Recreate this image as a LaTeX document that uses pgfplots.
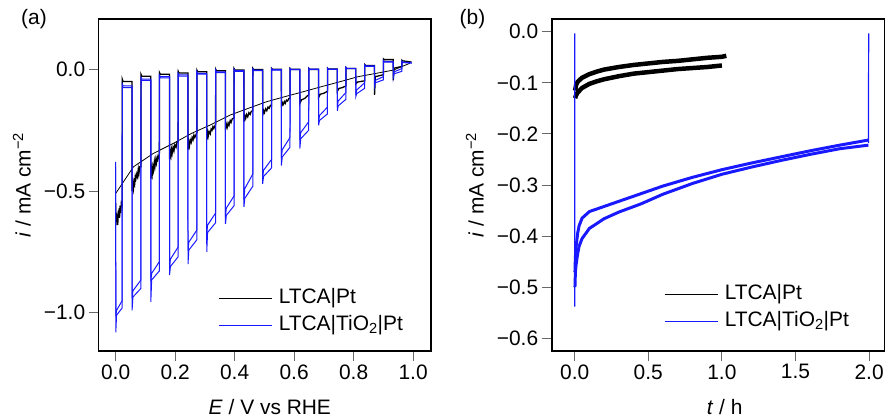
\documentclass[border=0pt]{standalone}
\usepackage{fontspec}
\setmainfont{Liberation Sans}
\usepackage{pgfplots}
\pgfplotsset{compat=1.18}
\definecolor{bl}{RGB}{25,25,255}
\definecolor{tickgray}{RGB}{105,105,105}
\newcommand{\fs}{\fontsize{21}{25}\selectfont}
\pgfplotsset{
  panel/.style={
    scale only axis, anchor=south west, height=332bp,
    axis line style={line width=1.6pt},
    tick align=outside, tick pos=left, major tick length=10bp,
    tick style={draw=tickgray, line width=1pt},
    tick label style={font=\fs},
    label style={font=\fs},
    ylabel style={at={(axis description cs:-0.231,0.5)}, anchor=center},
    legend cell align=left,
    legend style={draw=none, fill=none, inner sep=0pt, row sep=7.5pt, column sep=6pt,
      font=\fs, nodes={inner sep=0pt, text height=15pt, text depth=4.5pt}},
    legend image code/.code={\draw[##1] (0pt,0pt) -- (54pt,0pt);},
  },
}

\begin{document}
\begin{tikzpicture}[font=\fs]
\useasboundingbox (0,0) rectangle (888bp,418bp);

% (a) chopped-light LSV
\begin{axis}[panel, at={(98.7bp,67bp)}, width=332.3bp,
  xmin=-0.057, xmax=1.06, ymin=-1.157, ymax=0.207,
  xtick={0,0.2,0.4,0.6,0.8,1.0}, xticklabels={0.0,0.2,0.4,0.6,0.8,1.0},
  ytick={-1,-0.5,0}, yticklabels={−1.0,−0.5,0.0},
  xlabel={\textit{E} / V vs RHE},
  xlabel style={at={(axis description cs:0.515,-0.19)}, anchor=base},
  ylabel={\textit{i} / mA cm\textsuperscript{−2}},
  legend style={at={(axis description cs:0.359,0.119)}, anchor=west},
]
\addlegendimage{black, line width=0.8pt}
\addlegendentry{LTCA|Pt}
\addlegendimage{bl, line width=0.8pt}
\addlegendentry{LTCA|TiO\textsubscript{2}|Pt}
% LTCA|Pt, continuous illuminated sweep
\addplot[black, line width=0.8pt, forget plot] coordinates {
(0,-0.51) (0.06,-0.40) (0.127,-0.345) (0.194,-0.304) (0.255,-0.263) (0.317,-0.229)
(0.384,-0.188) (0.446,-0.16) (0.507,-0.133) (0.569,-0.112) (0.63,-0.092)
(0.692,-0.071) (0.753,-0.051) (0.815,-0.03) (0.877,-0.016) (0.933,-0.003) (0.989,0.025)
};
% LTCA|Pt, chopped
\addplot[black, line width=1.3pt, forget plot] coordinates {
(0,-0.55) (0.001,-0.64) (0.003,-0.59) (0.004,-0.62) (0.006,-0.60) (0.007,-0.64) (0.009,-0.58)
(0.010,-0.61) (0.012,-0.57) (0.013,-0.61) (0.015,-0.56) (0.017,-0.59) (0.019,-0.55) (0.022,-0.56)
(0.0222,-0.04) (0.025,-0.05) (0.055,-0.05)
(0.0552,-0.50) (0.058,-0.47) (0.060,-0.49) (0.062,-0.46) (0.064,-0.47) (0.066,-0.44) (0.068,-0.45)
(0.071,-0.43) (0.073,-0.44) (0.076,-0.41) (0.078,-0.43) (0.081,-0.40) (0.085,-0.40)
(0.0852,-0.02) (0.088,-0.028) (0.118,-0.028)
(0.1182,-0.45) (0.121,-0.41) (0.123,-0.43) (0.125,-0.40) (0.127,-0.415) (0.130,-0.38)
(0.132,-0.40) (0.135,-0.37) (0.137,-0.385) (0.140,-0.36) (0.142,-0.37) (0.147,-0.345)
(0.1472,-0.013) (0.150,-0.02) (0.181,-0.02)
(0.1812,-0.37) (0.184,-0.34) (0.186,-0.355) (0.188,-0.33) (0.190,-0.345) (0.193,-0.32)
(0.196,-0.335) (0.199,-0.31) (0.203,-0.32) (0.206,-0.30) (0.210,-0.295)
(0.2102,-0.008) (0.213,-0.015) (0.243,-0.015)
(0.2432,-0.33) (0.246,-0.30) (0.248,-0.315) (0.251,-0.29) (0.254,-0.30) (0.257,-0.28)
(0.260,-0.29) (0.263,-0.27) (0.266,-0.28) (0.273,-0.26)
(0.2732,-0.003) (0.276,-0.01) (0.306,-0.01)
(0.3062,-0.29) (0.309,-0.26) (0.311,-0.275) (0.314,-0.255) (0.318,-0.265) (0.321,-0.245)
(0.324,-0.25) (0.327,-0.235) (0.330,-0.243) (0.336,-0.225)
(0.3362,0.001) (0.339,-0.006) (0.369,-0.006)
(0.3692,-0.25) (0.372,-0.225) (0.375,-0.238) (0.378,-0.22) (0.381,-0.23) (0.385,-0.21)
(0.388,-0.218) (0.392,-0.203) (0.398,-0.20)
(0.3982,0.003) (0.401,-0.003) (0.431,-0.003)
(0.4312,-0.215) (0.434,-0.19) (0.437,-0.202) (0.440,-0.185) (0.444,-0.195) (0.448,-0.178)
(0.452,-0.185) (0.456,-0.172) (0.461,-0.17)
(0.4612,0.004) (0.464,-0.001) (0.494,-0.001)
(0.4942,-0.19) (0.497,-0.168) (0.500,-0.178) (0.504,-0.162) (0.508,-0.17) (0.512,-0.155)
(0.516,-0.16) (0.520,-0.148) (0.524,-0.15)
(0.5242,0.004) (0.527,0.0) (0.557,0.0)
(0.5572,-0.155) (0.560,-0.136) (0.563,-0.145) (0.567,-0.132) (0.570,-0.14) (0.574,-0.126)
(0.578,-0.13) (0.582,-0.12) (0.586,-0.12)
(0.5862,0.004) (0.589,0.0) (0.619,0.0)
(0.6192,-0.14) (0.625,-0.125) (0.631,-0.122) (0.637,-0.118) (0.643,-0.11) (0.649,-0.105)
(0.6492,0.004) (0.652,0.0) (0.682,0.0)
(0.6822,-0.115) (0.688,-0.102) (0.700,-0.098) (0.712,-0.09)
(0.7122,0.005) (0.715,0.001) (0.745,0.001)
(0.7452,-0.09) (0.751,-0.078) (0.762,-0.075) (0.774,-0.068)
(0.7742,0.008) (0.777,0.004) (0.807,0.004)
(0.8072,-0.06) (0.813,-0.052) (0.837,-0.047)
(0.8372,0.02) (0.840,0.016) (0.870,0.016)
(0.8702,-0.105) (0.873,-0.03) (0.900,-0.022)
(0.9002,0.043) (0.903,0.04) (0.933,0.04)
(0.9332,-0.045) (0.936,0.005) (0.962,0.012)
(0.9622,0.038) (0.965,0.035) (0.995,0.03)
};
% LTCA|TiO2|Pt, chopped, sweep 1
\addplot[bl, line width=1pt, forget plot] coordinates {
(0,-0.38)
(0.0005,-1.08) (0.003,-1.01) (0.022,-0.98)
(0.0222,-0.065) (0.025,-0.075) (0.055,-0.075)
(0.0552,-0.99) (0.058,-0.935) (0.085,-0.90)
(0.0852,-0.038) (0.088,-0.045) (0.118,-0.045)
(0.1182,-0.955) (0.121,-0.865) (0.147,-0.828)
(0.1472,-0.028) (0.150,-0.035) (0.181,-0.035)
(0.1812,-0.845) (0.184,-0.81) (0.210,-0.77)
(0.2102,-0.02) (0.213,-0.028) (0.243,-0.028)
(0.2432,-0.80) (0.246,-0.742) (0.273,-0.70)
(0.2732,-0.012) (0.276,-0.02) (0.306,-0.02)
(0.3062,-0.75) (0.309,-0.67) (0.336,-0.63)
(0.3362,-0.006) (0.339,-0.013) (0.369,-0.013)
(0.3692,-0.635) (0.372,-0.60) (0.398,-0.56)
(0.3982,-0.002) (0.401,-0.008) (0.431,-0.008)
(0.4312,-0.565) (0.434,-0.53) (0.461,-0.48)
(0.4612,0.0) (0.464,-0.005) (0.494,-0.005)
(0.4942,-0.47) (0.497,-0.44) (0.524,-0.405)
(0.5242,0.002) (0.527,-0.003) (0.557,-0.003)
(0.5572,-0.395) (0.560,-0.36) (0.586,-0.32)
(0.5862,0.003) (0.589,-0.001) (0.619,-0.001)
(0.6192,-0.325) (0.622,-0.285) (0.649,-0.25)
(0.6492,0.004) (0.652,0.0) (0.682,0.0)
(0.6822,-0.23) (0.685,-0.21) (0.712,-0.183)
(0.7122,0.004) (0.715,0.0) (0.745,0.0)
(0.7452,-0.17) (0.748,-0.15) (0.774,-0.123)
(0.7742,0.007) (0.777,0.003) (0.807,0.003)
(0.8072,-0.112) (0.810,-0.10) (0.837,-0.078)
(0.8372,0.016) (0.840,0.012) (0.870,0.012)
(0.8702,-0.07) (0.873,-0.055) (0.900,-0.043)
(0.9002,0.035) (0.903,0.03) (0.933,0.03)
(0.9332,-0.035) (0.936,-0.018) (0.962,-0.008)
(0.9622,0.032) (0.965,0.028) (0.995,0.025)
};
% LTCA|TiO2|Pt, chopped, sweep 2
\addplot[bl, line width=1pt, forget plot] coordinates {
(0,-0.40)
(0.0005,-1.015) (0.003,-0.99) (0.022,-0.95)
(0.0222,-0.06) (0.025,-0.068) (0.055,-0.068)
(0.0552,-0.94) (0.058,-0.91) (0.085,-0.865)
(0.0852,-0.033) (0.088,-0.04) (0.118,-0.04)
(0.1182,-0.87) (0.121,-0.838) (0.147,-0.79)
(0.1472,-0.024) (0.150,-0.03) (0.181,-0.03)
(0.1812,-0.815) (0.184,-0.78) (0.210,-0.73)
(0.2102,-0.016) (0.213,-0.023) (0.243,-0.023)
(0.2432,-0.745) (0.246,-0.71) (0.273,-0.66)
(0.2732,-0.009) (0.276,-0.016) (0.306,-0.016)
(0.3062,-0.675) (0.309,-0.64) (0.336,-0.59)
(0.3362,-0.003) (0.339,-0.01) (0.369,-0.01)
(0.3692,-0.605) (0.372,-0.57) (0.398,-0.52)
(0.3982,0.0) (0.401,-0.005) (0.431,-0.005)
(0.4312,-0.535) (0.434,-0.49) (0.461,-0.43)
(0.4612,0.002) (0.464,-0.003) (0.494,-0.003)
(0.4942,-0.445) (0.497,-0.415) (0.524,-0.37)
(0.5242,0.003) (0.527,-0.001) (0.557,-0.001)
(0.5572,-0.365) (0.560,-0.33) (0.586,-0.28)
(0.5862,0.004) (0.589,0.0) (0.619,0.0)
(0.6192,-0.29) (0.622,-0.26) (0.649,-0.215)
(0.6492,0.005) (0.652,0.001) (0.682,0.001)
(0.6822,-0.215) (0.685,-0.19) (0.712,-0.155)
(0.7122,0.005) (0.715,0.001) (0.745,0.001)
(0.7452,-0.155) (0.748,-0.13) (0.774,-0.095)
(0.7742,0.008) (0.777,0.004) (0.807,0.004)
(0.8072,-0.105) (0.810,-0.085) (0.837,-0.055)
(0.8372,0.018) (0.840,0.014) (0.870,0.014)
(0.8702,-0.06) (0.873,-0.045) (0.900,-0.03)
(0.9002,0.036) (0.903,0.032) (0.933,0.032)
(0.9332,-0.02) (0.936,-0.01) (0.962,0.003)
(0.9622,0.033) (0.965,0.03) (0.995,0.028)
};
\end{axis}

% (b) chronoamperometry
\begin{axis}[panel, at={(551.7bp,67bp)}, width=332.6bp,
  xmin=-0.156, xmax=2.103, ymin=-0.625, ymax=0.025,
  xtick={0,0.5,1,1.5,2}, xticklabels={0.0,0.5,1.0,1.5,2.0},
  ytick={-0.6,-0.5,-0.4,-0.3,-0.2,-0.1,0},
  yticklabels={−0.6,−0.5,−0.4,−0.3,−0.2,−0.1,0.0},
  xlabel={\textit{t} / h},
  xlabel style={at={(axis description cs:0.52,-0.19)}, anchor=base},
  ylabel={\textit{i} / mA cm\textsuperscript{−2}},
  legend style={at={(axis description cs:0.3376,0.13)}, anchor=west},
]
\addlegendimage{black, line width=0.8pt}
\addlegendentry{LTCA|Pt}
\addlegendimage{bl, line width=0.8pt}
\addlegendentry{LTCA|TiO\textsubscript{2}|Pt}
\addplot[black, line width=4.5pt, forget plot] coordinates {
(0.003,-0.115) (0.01,-0.104) (0.02,-0.098) (0.05,-0.09) (0.1,-0.083) (0.15,-0.078)
(0.2,-0.074) (0.3,-0.069) (0.4,-0.065) (0.5,-0.062) (0.6,-0.059) (0.7,-0.057)
(0.8,-0.054) (0.9,-0.051) (1.0,-0.049) (1.03,-0.047)
};
\addplot[black, line width=4.5pt, forget plot] coordinates {
(0.003,-0.13) (0.01,-0.124) (0.02,-0.119) (0.05,-0.11) (0.1,-0.102) (0.15,-0.097)
(0.2,-0.093) (0.3,-0.087) (0.4,-0.082) (0.5,-0.079) (0.6,-0.076) (0.7,-0.073)
(0.8,-0.071) (0.9,-0.069) (1.0,-0.066)
};
\addplot[bl, line width=3pt, forget plot] coordinates {
(0.002,-0.47) (0.005,-0.44) (0.01,-0.42) (0.02,-0.395) (0.03,-0.38) (0.05,-0.365)
(0.1,-0.352) (0.2,-0.342) (0.3,-0.332) (0.45,-0.317) (0.6,-0.302) (0.8,-0.285)
(1.0,-0.27) (1.2,-0.257) (1.4,-0.245) (1.6,-0.233) (1.8,-0.222) (1.995,-0.212)
};
\addplot[bl, line width=3pt, forget plot] coordinates {
(0.002,-0.50) (0.005,-0.47) (0.01,-0.455) (0.02,-0.435) (0.03,-0.42) (0.05,-0.405)
(0.1,-0.385) (0.2,-0.366) (0.3,-0.353) (0.45,-0.337) (0.6,-0.318) (0.8,-0.297)
(1.0,-0.279) (1.2,-0.265) (1.4,-0.252) (1.6,-0.24) (1.8,-0.229) (1.995,-0.222)
};
% light on/off transients
\addplot[bl, line width=1.2pt, forget plot] coordinates {
(0,-0.003) (0,-0.538) (0.002,-0.47)
};
\addplot[bl, line width=1.2pt, forget plot] coordinates {
(1.995,-0.218) (1.997,-0.003)
};
\end{axis}

\node at (34bp,398.5bp) {(a)};
\node at (472.5bp,398.5bp) {(b)};
\end{tikzpicture}
\end{document}
